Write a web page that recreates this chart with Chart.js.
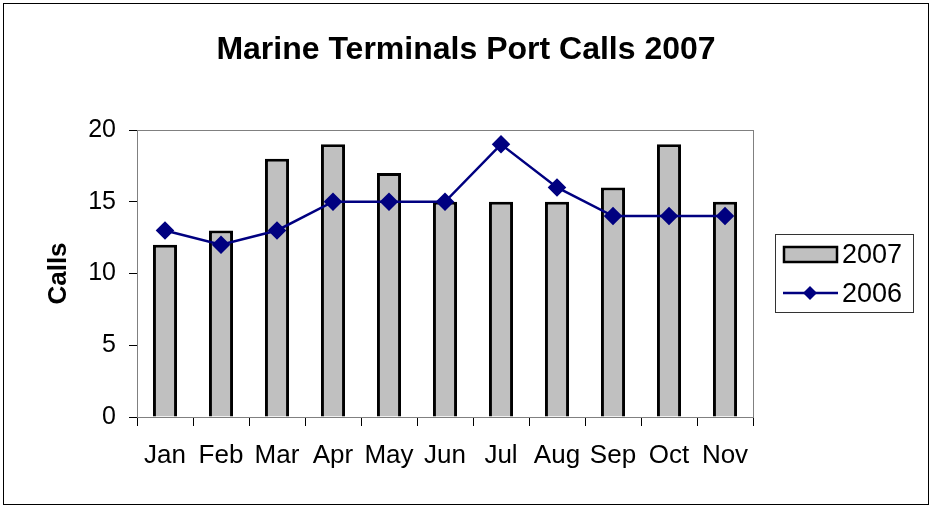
<!DOCTYPE html>
<html>
<head>
<meta charset="utf-8">
<title>Marine Terminals Port Calls 2007</title>
<script src="https://cdn.jsdelivr.net/npm/chart.js@4/dist/chart.umd.min.js"></script>
<style>
  html, body { margin: 0; padding: 0; background: #fff; }
  canvas { display: block; }
</style>
</head>
<body>
<canvas id="portChart" width="932" height="508"></canvas>
<script>
const months = ['Jan', 'Feb', 'Mar', 'Apr', 'May', 'Jun', 'Jul', 'Aug', 'Sep', 'Oct', 'Nov'];
const calls2007 = [12, 13, 18, 19, 17, 15, 15, 15, 16, 19, 15];
const calls2006 = [13, 12, 13, 15, 15, 15, 19, 16, 14, 14, 14];
const yTicks = [0, 5, 10, 15, 20];

const FONT = 'Liberation Sans, Arial, sans-serif';

// frame, plot border, title and boxed legend
const decor = {
    id: 'decor',
    beforeDatasetsDraw(chart) {
        const ctx = chart.ctx;
        const a = chart.chartArea;
        ctx.save();
        ctx.strokeStyle = '#808080';
        ctx.lineWidth = 1;
        ctx.strokeRect(a.left + 0.5, a.top + 0.5, a.right - a.left, a.bottom - a.top);
        ctx.restore();
    },
    afterDraw(chart) {
        const ctx = chart.ctx;
        ctx.save();
        // outer frame
        ctx.strokeStyle = '#000';
        ctx.lineWidth = 1;
        ctx.strokeRect(3.5, 3.5, 925, 501);

        // title
        ctx.fillStyle = '#000';
        ctx.font = 'bold 32px ' + FONT;
        ctx.textAlign = 'center';
        ctx.textBaseline = 'middle';
        ctx.fillText('Marine Terminals Port Calls 2007', 466, 50);

        // legend
        const ds = chart.data.datasets;
        ctx.strokeStyle = '#333';
        ctx.strokeRect(775.5, 234.5, 138, 78);
        ctx.font = '27px ' + FONT;
        ctx.textAlign = 'left';

        const bar = ds[1];
        ctx.fillStyle = bar.backgroundColor;
        ctx.fillRect(784, 247, 53, 15);
        ctx.strokeStyle = '#000';
        ctx.lineWidth = 2.5;
        ctx.strokeRect(784, 247, 53, 15);
        ctx.fillStyle = '#000';
        ctx.fillText(bar.label, 842, 256);

        const line = ds[0];
        ctx.strokeStyle = line.borderColor;
        ctx.lineWidth = 2.5;
        ctx.beginPath();
        ctx.moveTo(783, 293);
        ctx.lineTo(838, 293);
        ctx.stroke();
        ctx.fillStyle = line.borderColor;
        ctx.beginPath();
        ctx.moveTo(810, 286);
        ctx.lineTo(817, 293);
        ctx.lineTo(810, 300);
        ctx.lineTo(803, 293);
        ctx.closePath();
        ctx.fill();
        ctx.fillStyle = '#000';
        ctx.fillText(line.label, 842, 295);
        ctx.restore();
    }
};

const ctx = document.getElementById('portChart').getContext('2d');
new Chart(ctx, {
    type: 'bar',
    data: {
        labels: months,
        datasets: [{
            type: 'line',
            label: '2006',
            data: calls2006,
            borderColor: '#000080',
            backgroundColor: '#000080',
            borderWidth: 2.5,
            pointStyle: 'rectRot',
            pointRadius: 7.5,
            pointHoverRadius: 7.5,
            tension: 0,
            order: 0
        }, {
            label: '2007',
            data: calls2007,
            backgroundColor: '#c0c0c0',
            borderColor: '#000',
            borderWidth: 3,
            barPercentage: 0.43,
            categoryPercentage: 1,
            order: 1
        }]
    },
    options: {
        responsive: false,
        animation: false,
        events: [],
        layout: { padding: { top: 130, right: 179, bottom: 0, left: 0 } },
        plugins: {
            legend: { display: false },
            title: { display: false },
            tooltip: { enabled: false }
        },
        scales: {
            x: {
                grid: { drawOnChartArea: false, color: '#000', tickLength: 9, offset: true },
                border: { color: '#000', width: 1 },
                ticks: { color: '#000', font: { family: FONT, size: 26 }, padding: 14, maxRotation: 0 },
                afterFit(scale) { scale.height = 91; }
            },
            y: {
                min: 0,
                max: 20,
                afterBuildTicks(scale) { scale.ticks = yTicks.map(v => ({ value: v })); },
                grid: { drawOnChartArea: false, color: '#000', tickLength: 8 },
                border: { color: '#000', width: 1 },
                ticks: { color: '#000', font: { family: FONT, size: 25 }, padding: 13 },
                title: {
                    display: true,
                    text: 'Calls',
                    color: '#000',
                    font: { family: FONT, size: 26, weight: 'bold' },
                    padding: { top: 43, bottom: 0 }
                },
                afterFit(scale) { scale.width = 137; }
            }
        }
    },
    plugins: [decor]
});
</script>
</body>
</html>
